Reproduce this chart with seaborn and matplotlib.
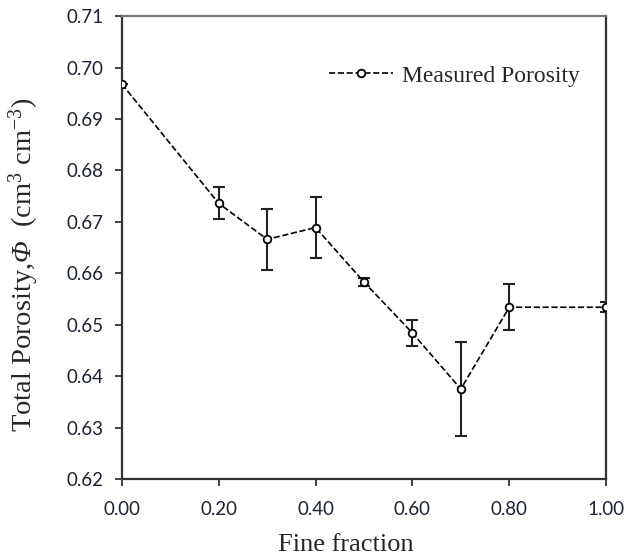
import numpy as np
import pandas as pd
import seaborn as sns
import matplotlib.pyplot as plt

fine_fraction = [0.0, 0.2, 0.3, 0.4, 0.5, 0.6, 0.7, 0.8, 1.0]
porosity = [0.6968, 0.6736, 0.6666, 0.6689, 0.6583, 0.6484, 0.6375, 0.6534, 0.6534]
porosity_err = [0.0, 0.0031, 0.0059, 0.0059, 0.0007, 0.0026, 0.0091, 0.0045, 0.0010]
y_ticks = [0.62, 0.63, 0.64, 0.65, 0.66, 0.67, 0.68, 0.69, 0.70, 0.71]
x_ticks = [0.0, 0.2, 0.4, 0.6, 0.8, 1.0]

df = pd.DataFrame({"Fine fraction": fine_fraction, "Porosity": porosity, "err": porosity_err})

sns.set_style("ticks")
plt.rcParams["mathtext.fontset"] = "custom"
plt.rcParams["mathtext.rm"] = "Liberation Serif"
plt.rcParams["mathtext.it"] = "Liberation Serif:italic"
# italic capital Phi (mathit forces Greek capitals upright)
plt.rcParams["mathtext.sf"] = "Liberation Serif:italic"

fig, ax = plt.subplots(figsize=(6.38, 5.57), dpi=100)
fig.subplots_adjust(left=0.191, right=0.950, top=0.971, bottom=0.140)

ax.errorbar(df["Fine fraction"], df["Porosity"], yerr=df["err"], fmt="none",
            ecolor="#222222", elinewidth=1.5, capsize=4, capthick=1.5, zorder=2)
sns.lineplot(data=df, x="Fine fraction", y="Porosity", ax=ax, color="black",
             linestyle="--", linewidth=1.2, marker="o", markersize=5.5,
             markerfacecolor="white", markeredgecolor="black", markeredgewidth=1.3,
             label="Measured Porosity", zorder=3)

ax.set_xlim(0, 1.0)
ax.set_ylim(0.62, 0.71)
ax.set_xticks(x_ticks)
ax.set_xticklabels([f"{v:.2f}" for v in x_ticks])
ax.set_yticks(y_ticks)
ax.set_yticklabels([f"{v:.2f}" for v in y_ticks])

for lab in ax.get_xticklabels() + ax.get_yticklabels():
    lab.set_fontfamily("Lato")
    lab.set_fontsize(13.5)
    lab.set_color("#1c2233")
ax.tick_params(axis="x", direction="out", length=5, width=1.3, color="#333333", pad=11)
ax.tick_params(axis="y", direction="out", length=5, width=1.3, color="#333333", pad=8)

for s in ax.spines.values():
    s.set_color("#333333")
    s.set_linewidth(1.6)
ax.spines["top"].set_color("#777777")

ax.set_xlabel("Fine fraction", family="Liberation Serif", fontsize=19)
ax.xaxis.set_label_coords(0.463, -0.118)
ax.set_ylabel("Total Porosity,$\\mathsf{Φ}$  (cm$^3$ cm$^{-3}$)",
              family="Liberation Serif", fontsize=20.5)
ax.yaxis.set_label_coords(-0.167, 0.464)

leg = ax.legend(loc="upper right", frameon=False, bbox_to_anchor=(0.99, 0.94),
                prop={"family": "Liberation Serif", "size": 17}, handlelength=2.7,
                handletextpad=0.4)

plt.savefig("out.png", dpi=100)
